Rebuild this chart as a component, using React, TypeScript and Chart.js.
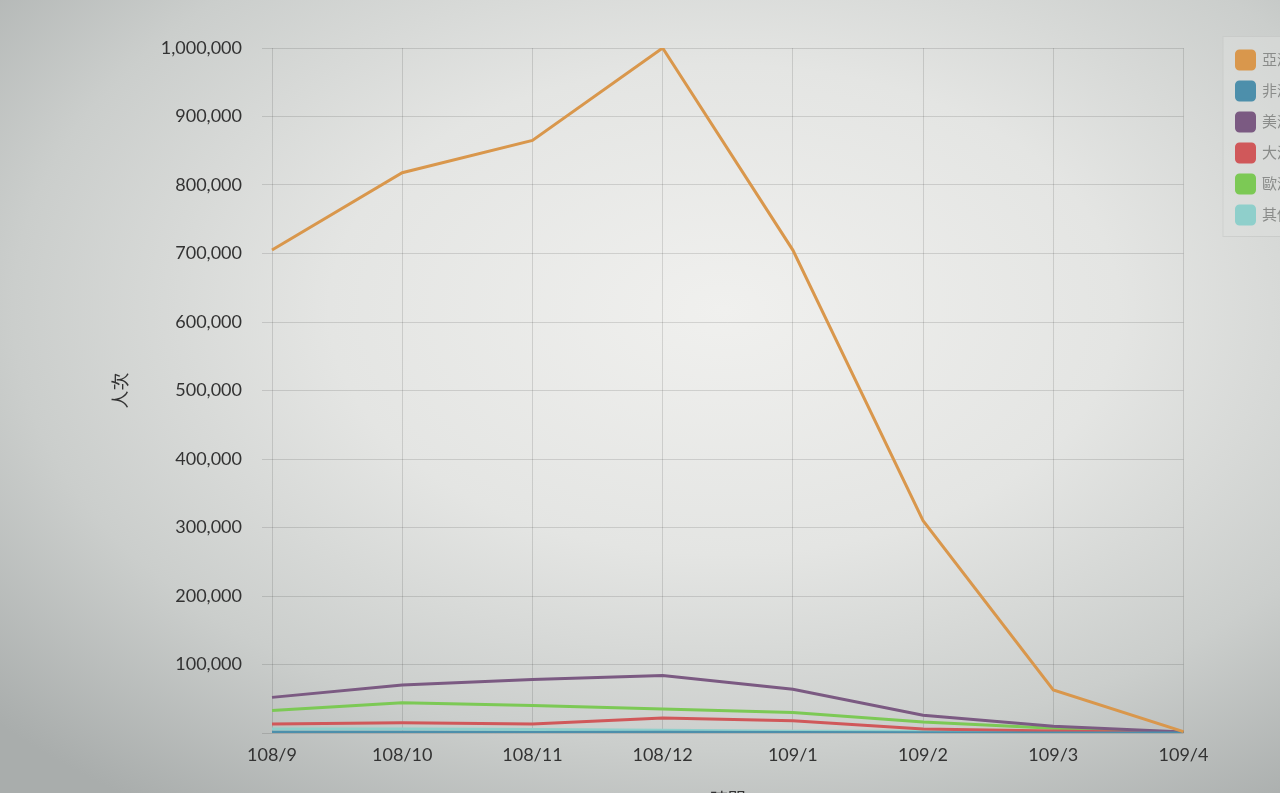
import React, { useEffect, useRef } from "react";
import { Chart, registerables } from "chart.js";

Chart.register(...registerables);

const months = ["108/9", "108/10", "108/11", "108/12", "109/1", "109/2", "109/3", "109/4"];
const seriesNames = ["亞洲", "非洲", "美洲", "大洋洲", "歐洲", "其他"];
const asia = [705000, 818000, 865000, 1000000, 705000, 310000, 63000, 2000];
const africa = [1200, 1000, 900, 1000, 700, 300, 100, 50];
const america = [52000, 70000, 78000, 84000, 64000, 26000, 10000, 1500];
const oceania = [13000, 15000, 13000, 22000, 18000, 6000, 3000, 500];
const europe = [33000, 44000, 40000, 35000, 30000, 16000, 7000, 1000];
const others = [6000, 6000, 5000, 4000, 2500, 2500, 2000, 500];
const seriesColors = ["#d9974c", "#4d8fab", "#7b5a82", "#d0585a", "#7cc955", "#8fcfcb"];
const yTicks = [0, 100000, 200000, 300000, 400000, 500000, 600000, 700000, 800000, 900000, 1000000];
const yTitle = "人次";
const xTitle = "時間";

const W = 1317;
const H = 815;
const FONT = "Lato, 'Noto Sans CJK TC', 'Noto Sans', sans-serif";

export default function App() {
  const ref = useRef<HTMLCanvasElement | null>(null);

  useEffect(() => {
    const canvas = ref.current;
    if (!canvas) return;
    const values = [asia, africa, america, oceania, europe, others];

    const legendShift = {
      id: "legendShift",
      afterLayout(chart: any) {
        const lg = chart.legend;
        if (!lg) return;
        lg.top -= 10;
        lg.bottom -= 10;
        if (lg.legendHitBoxes) lg.legendHitBoxes.forEach((b: any) => (b.top -= 10));
      },
    };

    const legendBg = {
      id: "legendBg",
      beforeDraw(chart: any) {
        const lg = chart.legend;
        if (!lg) return;
        const ctx = chart.ctx;
        ctx.save();
        ctx.fillStyle = "rgba(220,222,220,0.55)";
        ctx.strokeStyle = "rgba(0,0,0,0.06)";
        ctx.lineWidth = 1;
        const x = lg.left - 1;
        const y = lg.top - 2;
        ctx.fillRect(x, y, W - x, 200);
        ctx.strokeRect(x + 0.5, y + 0.5, W - x, 200);
        ctx.restore();
      },
    };

    const chart = new Chart(canvas, {
      type: "line",
      data: {
        labels: months,
        datasets: values.map((v, i) => ({
          label: seriesNames[i],
          data: v,
          borderColor: seriesColors[i],
          backgroundColor: seriesColors[i],
          borderWidth: 3,
          pointRadius: 0,
          tension: 0,
          fill: false,
        })),
      },
      options: {
        responsive: true,
        maintainAspectRatio: false,
        animation: false,
        layout: { padding: { top: 48, right: 0, left: 0, bottom: 0 } },
        plugins: {
          tooltip: { enabled: false },
          legend: {
            position: "right",
            align: "start",
            labels: {
              boxWidth: 18,
              boxHeight: 18,
              padding: 13,
              useBorderRadius: true,
              borderRadius: 3,
              color: "#8a8c8a",
              font: { family: FONT, size: 15 },
            },
          },
        },
        scales: {
          x: {
            grid: { color: "rgba(0,0,0,0.12)", tickLength: 0 },
            border: { display: false },
            ticks: {
              color: "#333",
              font: { family: FONT, size: 18 },
              padding: 11,
              maxRotation: 0,
              autoSkip: false,
            },
            title: {
              display: true,
              text: xTitle,
              color: "#333",
              font: { family: FONT, size: 18 },
              padding: { top: 4, bottom: 4 },
            },
            afterFit(scale: any) {
              scale.height = 82;
            },
          },
          y: {
            min: 0,
            max: 1000000,
            afterBuildTicks(scale: any) {
              scale.ticks = yTicks.map((v) => ({ value: v }));
            },
            grid: { color: "rgba(0,0,0,0.12)", tickLength: 10 },
            border: { display: false },
            ticks: {
              color: "#333",
              font: { family: FONT, size: 18 },
              padding: 20,
              callback: (v: any) => (v === 0 ? "" : Number(v).toLocaleString("en-US")),
            },
            title: {
              display: true,
              text: yTitle,
              color: "#333",
              font: { family: FONT, size: 18 },
              padding: { top: 110, bottom: 0 },
            },
            afterFit(scale: any) {
              scale.width = 272;
            },
          },
          spacer: {
            type: "linear",
            position: "right",
            display: true,
            grid: { drawOnChartArea: false, drawTicks: false },
            border: { display: false },
            ticks: { display: false },
            afterFit(scale: any) {
              scale.width = 40;
            },
          },
        },
      },
      plugins: [legendShift, legendBg],
    } as any);

    return () => chart.destroy();
  }, []);

  return (
    <div
      style={{
        position: "fixed",
        left: 0,
        top: 0,
        width: W,
        height: H,
        background:
          "radial-gradient(ellipse 75% 75% at 55% 38%, #f0f0ee 0%, #e4e5e3 40%, #cbcecc 72%, #a9adac 100%)",
      }}
    >
      <canvas ref={ref} style={{ display: "block" }} />
    </div>
  );
}
